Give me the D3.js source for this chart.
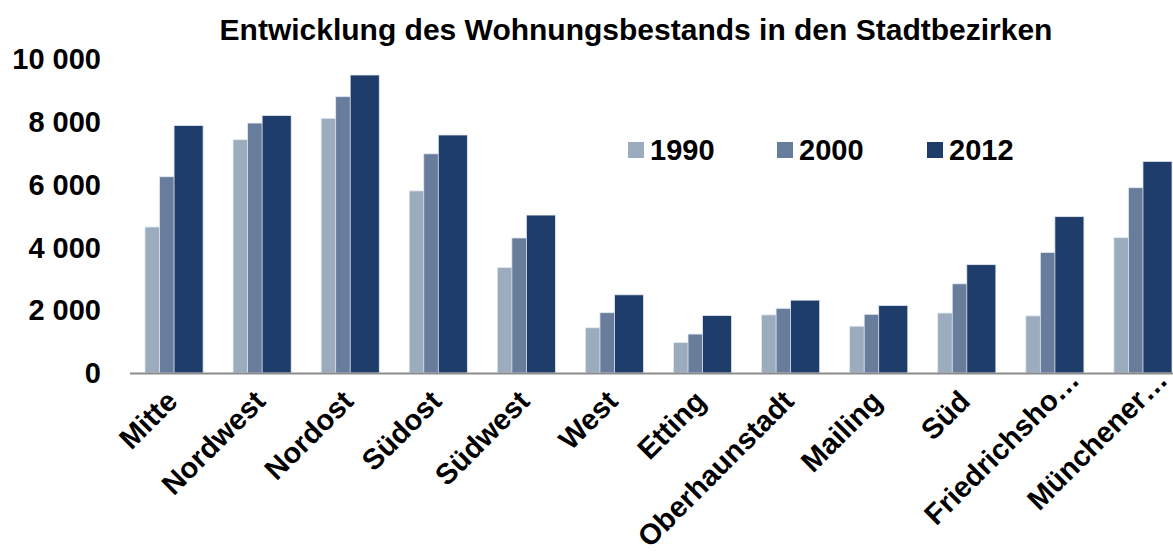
<!DOCTYPE html>
<html>
<head>
<meta charset="utf-8">
<script src="https://cdn.jsdelivr.net/npm/d3@7"></script>
<style>
  body { margin: 0; background: #fff; overflow: hidden; }
  text { font-family: "Liberation Sans", Arial, sans-serif; font-weight: bold; }
</style>
</head>
<body>
<script>
const districts = ["Mitte", "Nordwest", "Nordost", "Südost", "Südwest", "West", "Etting",
  "Oberhaunstadt", "Mailing", "Süd", "Friedrichsho…", "Münchener…"];
const years = ["1990", "2000", "2012"];
const v1990 = [4650, 7430, 8110, 5800, 3360, 1440, 970, 1850, 1490, 1910, 1820, 4310];
const v2000 = [6250, 7960, 8800, 6980, 4300, 1920, 1240, 2060, 1870, 2840, 3840, 5900];
const v2012 = [7880, 8200, 9490, 7580, 5030, 2490, 1830, 2320, 2150, 3450, 4980, 6740];
const yTicks = [0, 2000, 4000, 6000, 8000, 10000];
const colors = ["#9aacbe", "#687c9c", "#1f3d6b"];

const width = 1173, height = 552;
// the plot area runs a bit past the right edge of the picture (last group is clipped)
const plotLeft = 130, plotRight = 1187;
const plotTop = 59, plotBottom = 373;
const series = [v1990, v2000, v2012];

const svg = d3.select("body").append("svg")
  .attr("width", width)
  .attr("height", height);

const x = d3.scaleBand()
  .domain(districts)
  .range([plotLeft, plotRight])
  .paddingInner(0.34)
  .paddingOuter(0.17);

const y = d3.scaleLinear()
  .domain([0, 10000])
  .range([plotBottom, plotTop]);

// overlapping bars: each bar is half the group wide, shifted by a quarter
const barW = x.bandwidth() / 2;
const step = x.bandwidth() / 4;

series.forEach(function(vals, i) {
  svg.append("g").selectAll("rect").data(vals)
    .enter().append("rect")
    .attr("x", function(d, j) { return x(districts[j]) + i * step; })
    .attr("y", function(d) { return y(d); })
    .attr("width", barW)
    .attr("height", function(d) { return y(0) - y(d); })
    .attr("fill", colors[i])
    .attr("stroke", "#e4e9f0")
    .attr("stroke-width", 0.8);
});

// baseline
svg.append("line")
  .attr("x1", plotLeft).attr("x2", width)
  .attr("y1", y(0) + 0.5).attr("y2", y(0) + 0.5)
  .attr("stroke", "#8c8c8c")
  .attr("stroke-width", 2);

// y axis labels
const fmt = function(d) { return d3.format(",")(d).replace(/,/g, " "); };
svg.append("g").selectAll("text").data(yTicks)
  .enter().append("text")
  .attr("x", 101)
  .attr("y", function(d) { return y(d); })
  .attr("dy", "0.35em")
  .attr("text-anchor", "end")
  .attr("font-size", 29)
  .attr("fill", "#000")
  .text(fmt);

// category labels, rotated; truncated ones sit a little further out
svg.append("g").selectAll("text").data(districts)
  .enter().append("text")
  .attr("transform", function(d) {
    const cx = x(d) + x.bandwidth() / 2 + 5;
    return "translate(" + cx + "," + (y(0) + 30) + ") rotate(-45)";
  })
  .attr("x", function(d) { return d.endsWith("…") ? 30 : 0; })
  .attr("text-anchor", "end")
  .attr("font-size", 29)
  .attr("fill", "#000")
  .text(function(d) { return d; });

// title
svg.append("text")
  .attr("x", 636)
  .attr("y", 40)
  .attr("text-anchor", "middle")
  .attr("font-size", 30)
  .attr("fill", "#000")
  .text("Entwicklung des Wohnungsbestands in den Stadtbezirken");

// legend
const legendX = [628, 777, 927];
const lg = svg.append("g").selectAll("g").data(years)
  .enter().append("g")
  .attr("transform", function(d, i) { return "translate(" + legendX[i] + ",150)"; });
lg.append("rect")
  .attr("x", 0).attr("y", -8)
  .attr("width", 16).attr("height", 16)
  .attr("fill", function(d, i) { return colors[i]; });
lg.append("text")
  .attr("x", 22)
  .attr("dy", "0.36em")
  .attr("font-size", 29)
  .attr("fill", "#000")
  .text(function(d) { return d; });
</script>
</body>
</html>
